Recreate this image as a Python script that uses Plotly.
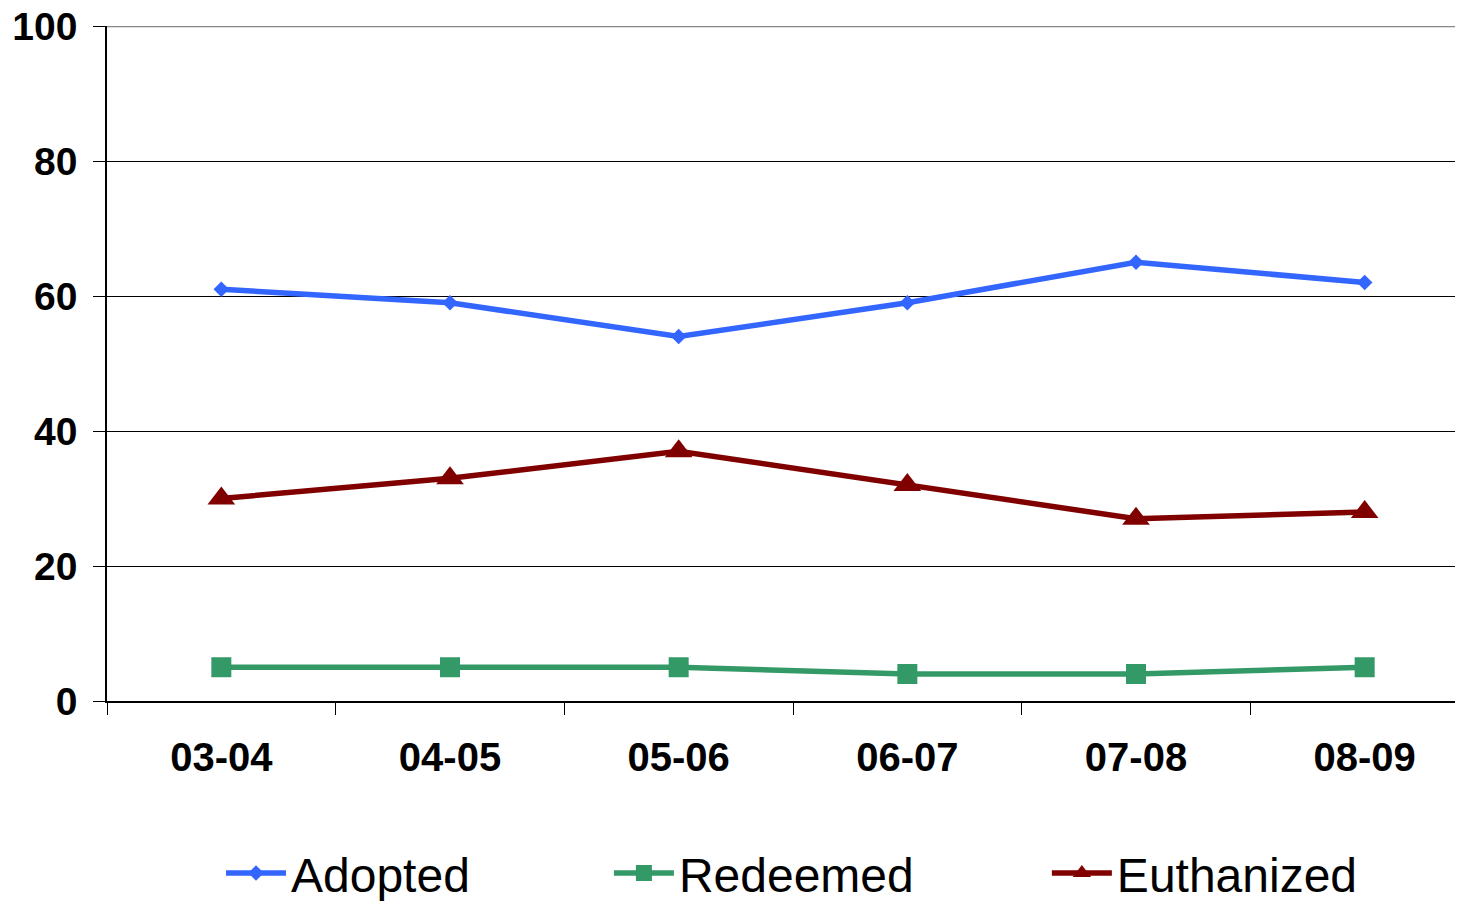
import plotly.graph_objects as go

years = ['03-04', '04-05', '05-06', '06-07', '07-08', '08-09']
adopted = [61, 59, 54, 59, 65, 62]
redeemed = [5, 5, 5, 4, 4, 5]
euthanized = [30, 33, 37, 32, 27, 28]

fig = go.Figure()
fig.add_trace(go.Scatter(
    x=years, y=adopted, name='Adopted', mode='lines+markers',
    line=dict(color='#3366FF', width=5.5),
    marker=dict(symbol='diamond', size=12, color='#3366FF'),
    legend='legend', showlegend=True
))
fig.add_trace(go.Scatter(
    x=years, y=redeemed, name='Redeemed', mode='lines+markers',
    line=dict(color='#339966', width=5.5),
    marker=dict(symbol='square', size=20, color='#339966'),
    legend='legend2', showlegend=True
))
fig.add_trace(go.Scatter(
    x=years, y=euthanized, name='Euthanized', mode='lines+markers',
    line=dict(color='#800000', width=5.5),
    marker=dict(symbol='triangle-up', size=24, color='#800000'),
    legend='legend3', showlegend=True
))

leg = dict(orientation='h', xref='container', yref='container', yanchor='middle',
           font=dict(family='Liberation Sans, Arial', size=48, color='black'),
           bgcolor='rgba(0,0,0,0)', itemwidth=60)
fig.update_layout(
    width=1455, height=893,
    showlegend=True,
    paper_bgcolor='white', plot_bgcolor='white',
    margin=dict(l=99, r=0, t=18, b=200, autoexpand=False),
    font=dict(family='Liberation Sans, Arial', color='black'),
    legend=dict(leg, x=0.1464, y=0.031),
    legend2=dict(leg, x=0.413, y=0.031),
    legend3=dict(leg, x=0.714, y=0.031),
    xaxis=dict(
        type='category', range=[-0.5, 5.43], automargin=False,
        showgrid=False, showline=True, linecolor='black', linewidth=1.5,
        ticks='outside', tickson='boundaries', ticklen=12, tickcolor='black',
        tickfont=dict(size=40, family='Liberation Sans, Arial', weight='bold'),
        ticklabelstandoff=20,
    ),
    yaxis=dict(
        range=[0, 100], dtick=20, automargin=False,
        showgrid=True, gridcolor='black', gridwidth=1,
        showline=True, linecolor='black', linewidth=1.5,
        ticks='outside', ticklen=12, tickcolor='black',
        tickfont=dict(size=39, family='Liberation Sans, Arial', weight='bold'),
        ticklabelstandoff=8, zeroline=False, ticklabeloverflow='allow',
    ),
    shapes=[dict(type='line', xref='paper', yref='y', x0=0, x1=1, y0=100, y1=100,
                 line=dict(color='#888888', width=2.5), layer='below')],
)
fig.write_html('out.html')
